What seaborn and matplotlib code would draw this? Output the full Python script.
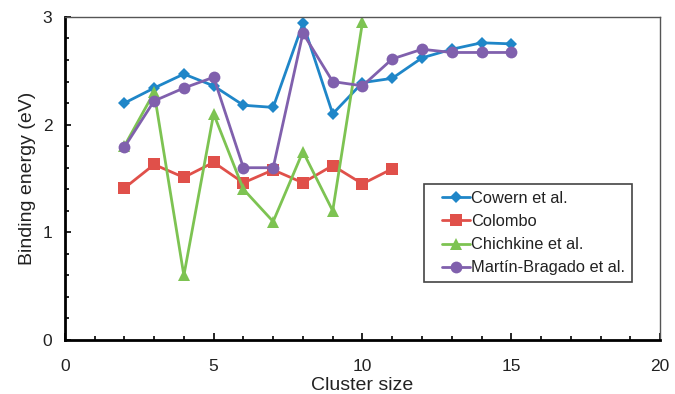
import pandas as pd
import matplotlib.pyplot as plt
import seaborn as sns
from matplotlib.ticker import MultipleLocator
from matplotlib.patches import Rectangle

sns.set_theme(style="ticks")
plt.rcParams['font.family'] = ['Liberation Sans', 'DejaVu Sans']

# Data
cowern_x = [2, 3, 4, 5, 6, 7, 8, 9, 10, 11, 12, 13, 14, 15]
cowern_y = [2.20, 2.34, 2.47, 2.36, 2.18, 2.16, 2.94, 2.10, 2.39, 2.43, 2.62, 2.70, 2.76, 2.75]

colombo_x = [2, 3, 4, 5, 6, 7, 8, 9, 10, 11]
colombo_y = [1.41, 1.63, 1.51, 1.65, 1.46, 1.58, 1.46, 1.62, 1.45, 1.59]

chichkine_x = [2, 3, 4, 5, 6, 7, 8, 9, 10]
chichkine_y = [1.80, 2.30, 0.60, 2.10, 1.40, 1.10, 1.75, 1.20, 2.95]

martin_x = [2, 3, 4, 5, 6, 7, 8, 9, 10, 11, 12, 13, 14, 15]
martin_y = [1.79, 2.22, 2.34, 2.44, 1.60, 1.60, 2.85, 2.40, 2.36, 2.61, 2.70, 2.67, 2.67, 2.67]

series = [
    ('Cowern et al.', cowern_x, cowern_y),
    ('Colombo', colombo_x, colombo_y),
    ('Chichkine et al.', chichkine_x, chichkine_y),
    ('Martín-Bragado et al.', martin_x, martin_y),
]
frames = [pd.DataFrame({'Cluster size': x, 'Binding energy': y, 'Source': name})
          for name, x, y in series]
df = pd.concat(frames, ignore_index=True)

palette = {
    'Cowern et al.': '#1f86c8',
    'Colombo': '#e0504a',
    'Chichkine et al.': '#7dc352',
    'Martín-Bragado et al.': '#8060ad',
}
markers = {
    'Cowern et al.': 'D',
    'Colombo': 's',
    'Chichkine et al.': '^',
    'Martín-Bragado et al.': 'o',
}
sizes = {'Cowern et al.': 6.5, 'Colombo': 8, 'Chichkine et al.': 8.5, 'Martín-Bragado et al.': 8.5}

fig, ax = plt.subplots(figsize=(6.75, 3.94), dpi=100)
fig.subplots_adjust(left=0.096, right=0.978, bottom=0.137, top=0.957)

for name, _, _ in series:
    sub = df[df['Source'] == name]
    sns.lineplot(data=sub, x='Cluster size', y='Binding energy', ax=ax,
                 color=palette[name], marker=markers[name], markersize=sizes[name],
                 markeredgewidth=0, linewidth=2, label=name, sort=False)

ax.set_xlim(0, 20)
ax.set_ylim(0, 3)
ax.xaxis.set_major_locator(MultipleLocator(5))
ax.xaxis.set_minor_locator(MultipleLocator(1))
ax.yaxis.set_major_locator(MultipleLocator(1))
ax.yaxis.set_minor_locator(MultipleLocator(0.2))
ax.tick_params(which='both', direction='in', colors='black', labelsize=12.5, width=1.2)
ax.tick_params(which='major', length=5)
ax.tick_params(which='minor', length=3)
ax.tick_params(axis='x', which='major', pad=14)
ax.tick_params(axis='y', which='major', length=4, pad=9)
for lab in ax.get_xticklabels() + ax.get_yticklabels():
    lab.set_color('#222222')

for side in ['left', 'bottom']:
    ax.spines[side].set_color('black')
    ax.spines[side].set_linewidth(2)
for side in ['top', 'right']:
    ax.spines[side].set_visible(True)
    ax.spines[side].set_color('#555555')
    ax.spines[side].set_linewidth(1)

ax.set_xlabel('Cluster size', fontsize=14, color='#222222', labelpad=2)
ax.set_ylabel('Binding energy (eV)', fontsize=14, color='#222222', labelpad=5)

# legend without its own frame; box drawn separately with extra room on the left
leg = ax.legend(loc='upper left', bbox_to_anchor=(0.622, 0.482), fontsize=11.8,
                frameon=False, handlelength=1.7, handletextpad=0.1, borderpad=0.4,
                labelspacing=0.5, borderaxespad=0)
leg.set_zorder(6)
for t in leg.get_texts():
    t.set_color('#222222')

fig.canvas.draw()
bb = leg.get_window_extent().transformed(ax.transAxes.inverted())
x0 = bb.x0 - 11 / (675 * 0.882)
box = Rectangle((x0, bb.y0), bb.x1 - x0, bb.height, transform=ax.transAxes,
                facecolor='white', edgecolor='#444444', linewidth=1.2,
                zorder=5, clip_on=False)
ax.add_patch(box)

plt.savefig('out.png', dpi=100)
